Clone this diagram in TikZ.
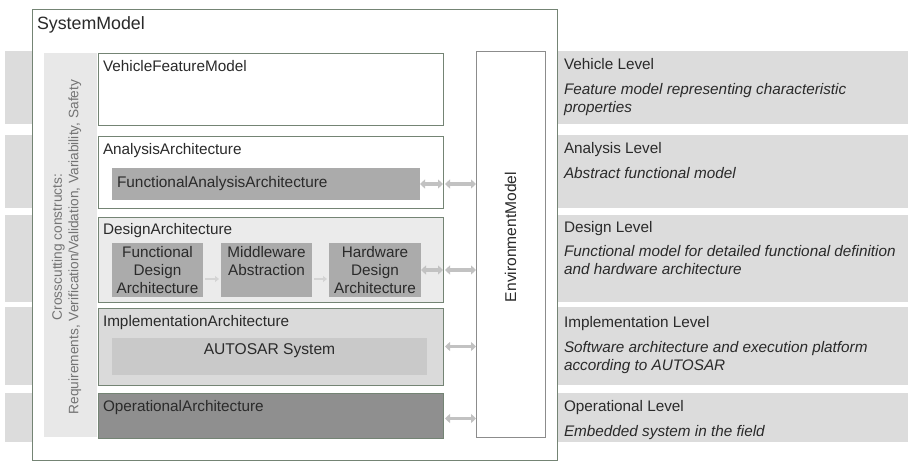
\documentclass[tikz,border=0pt]{standalone}
\usepackage{fontspec}
\setmainfont{Liberation Sans}
\usetikzlibrary{arrows.meta,positioning}

\definecolor{bandgray}{HTML}{DCDCDC}
\definecolor{crossgray}{HTML}{E8E8E8}
\definecolor{boxline}{HTML}{748474}
\definecolor{partgray}{HTML}{ABABAB}
\definecolor{designfill}{HTML}{EBEBEB}
\definecolor{implfill}{HTML}{DADADA}
\definecolor{autosarfill}{HTML}{C9C9C9}
\definecolor{operfill}{HTML}{8F8F8F}
\definecolor{arrowgray}{HTML}{C2C2C2}
\definecolor{textgray}{HTML}{2A2A2A}

\begin{document}
\begin{tikzpicture}[x=1pt,y=-1pt,
    every node/.style={inner sep=0pt,outer sep=0pt,text=textgray},
    band/.style={fill=bandgray,anchor=north west,minimum width=903pt},
    box/.style={draw=boxline,line width=0.8pt,anchor=north west},
    part/.style={fill=partgray,anchor=north west},
    title/.style={anchor=base west,font=\fontsize{15.3}{18}\selectfont},
    ptext/.style={anchor=north,align=center,font=\fontsize{15.3}{18}\selectfont},
    lvl/.style={anchor=base west,font=\fontsize{15.3}{18}\selectfont},
    desc/.style={anchor=base west,align=left,font=\fontsize{15.3}{18}\selectfont\itshape},
    link/.style={draw=arrowgray,line width=3.5pt,
      {Triangle[length=5pt,width=9pt]}-{Triangle[length=5pt,width=9pt]}},
    step link/.style={draw=arrowgray!70,line width=2.5pt,
      -{Triangle[length=4pt,width=6pt]}}]
  \useasboundingbox (0,0) rectangle (908,461);

  % level bands behind everything
  \node[band,minimum height=73pt] (vband) at (5,51) {};
  \node[band,minimum height=73pt] (aband) at (5,135) {};
  \node[band,minimum height=87pt] (dband) at (5,215) {};
  \node[band,minimum height=78pt] (iband) at (5,307) {};
  \node[band,minimum height=49pt] (oband) at (5,393) {};

  % system model frame
  \node[box,fill=white,minimum width=525pt,minimum height=451pt] (sys) at (32,9) {};
  \node[anchor=base west,font=\fontsize{17.8}{20}\selectfont] (systitle)
    at ([xshift=5pt,yshift=-20pt]sys.north west) {SystemModel};

  % crosscutting strip
  \node[fill=crossgray,anchor=north west,minimum width=53pt,minimum height=384pt] (cross) at (44,53) {};
  \node[rotate=90,align=center,text=black!55,font=\fontsize{13.7}{16.5}\selectfont] (crosstext)
    at ([xshift=-4pt,yshift=-2pt]cross.center) {Crosscutting constructs:\\Requirements, Verification/Validation, Variability, Safety};

  % architecture levels
  \node[box,fill=white,minimum width=345pt,minimum height=72pt] (vfm) at (98,53) {};
  \node[title] at ([xshift=5pt,yshift=-18pt]vfm.north west) {VehicleFeatureModel};

  \node[box,fill=white,minimum width=345pt,minimum height=72pt] (aa) at (98,136) {};
  \node[title] at ([xshift=5pt,yshift=-18pt]aa.north west) {AnalysisArchitecture};
  \node[part,minimum width=308pt,minimum height=32pt] (faa) at (112,168) {};
  \node[anchor=west,font=\fontsize{15.4}{18}\selectfont] at ([xshift=5pt]faa.west) {FunctionalAnalysisArchitecture};

  \node[box,fill=designfill,minimum width=345pt,minimum height=85pt] (da) at (98,217) {};
  \node[title] at ([xshift=5pt,yshift=-17pt]da.north west) {DesignArchitecture};
  \node[part,minimum width=91pt,minimum height=54pt] (fda) at (112,243) {};
  \node[ptext] at ([yshift=-3pt]fda.north) {Functional\\Design\\Architecture};
  \node[part,minimum width=91pt,minimum height=54pt] (mwa) at (221,243) {};
  \node[ptext] at ([yshift=-3pt]mwa.north) {Middleware\\Abstraction};
  \node[part,minimum width=92pt,minimum height=54pt] (hda) at (329,243) {};
  \node[ptext] at ([yshift=-3pt]hda.north) {Hardware\\Design\\Architecture};

  \node[box,fill=implfill,minimum width=345pt,minimum height=77pt] (ia) at (98,308) {};
  \node[title] at ([xshift=5pt,yshift=-18pt]ia.north west) {ImplementationArchitecture};
  \node[part,fill=autosarfill,minimum width=315pt,minimum height=37pt] (autosar) at (112,338) {};
  \node[ptext,font=\fontsize{15.6}{18}\selectfont] at ([yshift=-6pt]autosar.north) {AUTOSAR System};

  \node[box,fill=operfill,minimum width=345pt,minimum height=45pt] (oa) at (98,393) {};
  \node[title] at ([xshift=5pt,yshift=-18pt]oa.north west) {OperationalArchitecture};

  % environment
  \node[box,draw=black!45,fill=white,minimum width=69pt,minimum height=386pt] (env) at (476,51) {};
  \node[rotate=90,font=\fontsize{15.6}{18}\selectfont] at ([yshift=7pt]env.center) {EnvironmentModel};

  % links
  \draw[link] (faa.east) -- (faa.east -| aa.east);
  \draw[link] ([xshift=2pt]aa.east |- faa.east) -- (env.west |- faa.east);
  \draw[link] (hda.east) -- (hda.east -| da.east);
  \draw[link] ([xshift=2pt]da.east |- hda.east) -- (env.west |- hda.east);
  \draw[link] ([xshift=2pt]ia.east) -- (env.west |- ia.east);
  \draw[link] ([xshift=2pt,yshift=-3pt]oa.east) -- ([yshift=-3pt]env.west |- oa.east);
  \draw[step link] ([xshift=2pt,yshift=-9pt]fda.east) -- ([xshift=-2pt,yshift=-9pt]mwa.west);
  \draw[step link] ([xshift=2pt,yshift=-9pt]mwa.east) -- ([xshift=-2pt,yshift=-9pt]hda.west);

  % level descriptions (multi-line texts sit on their last baseline)
  \node[lvl] (vlev) at (564,69) {Vehicle Level};
  \node[desc] at (564,112) {Feature model representing characteristic\\properties};
  \node[lvl] (alev) at (564,153) {Analysis Level};
  \node[desc] at (564,178) {Abstract functional model};
  \node[lvl] (dlev) at (564,232) {Design Level};
  \node[desc] at (564,274) {Functional model for detailed functional definition\\and hardware architecture};
  \node[lvl] (ilev) at (564,327) {Implementation Level};
  \node[desc] at (564,370) {Software architecture and execution platform\\according to AUTOSAR};
  \node[lvl] (olev) at (564,411) {Operational Level};
  \node[desc] at (564,436) {Embedded system in the field};
\end{tikzpicture}
\end{document}
